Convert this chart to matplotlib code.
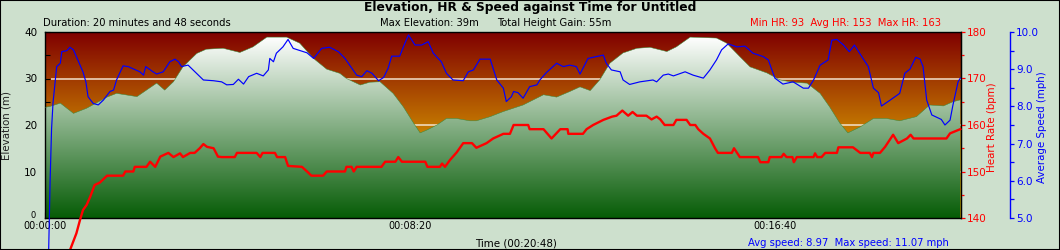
import numpy as np
import matplotlib
matplotlib.use("Agg")
import matplotlib.pyplot as plt
from matplotlib.ticker import FixedLocator, MultipleLocator, FuncFormatter, FormatStrFormatter
from matplotlib.patches import Rectangle

# ---------------- data ----------------
elev_t = [0, 7, 21, 39, 57, 85, 98, 126, 139, 153, 164, 176, 189, 208, 221, 244, 267, 285,
          304, 331, 349, 368, 386, 404, 413, 432, 445, 459, 477, 491, 505, 514, 523, 537,
          550, 564, 582, 591, 610, 628, 655, 683, 701, 719, 733, 747, 760, 774, 792, 811,
          829, 852, 865, 884, 920, 934, 952, 966, 989, 1007, 1025, 1044, 1062, 1075, 1089,
          1100, 1117, 1135, 1153, 1171, 1194, 1212, 1231, 1244, 1254]
elev_m = [23.8, 24.0, 24.7, 22.5, 23.6, 26.0, 26.8, 26.1, 27.5, 29.0, 27.5, 29.3, 32.5, 35.4,
          36.3, 36.5, 35.6, 36.8, 38.9, 38.9, 37.6, 34.3, 32.0, 31.1, 30.0, 28.6, 29.2, 29.3,
          26.8, 23.9, 20.4, 18.3, 18.9, 20.0, 21.4, 21.4, 20.9, 20.9, 21.8, 22.9, 24.3, 26.5,
          26.0, 27.2, 28.2, 27.4, 29.7, 33.3, 35.5, 36.5, 36.7, 35.8, 36.8, 38.9, 38.7, 37.6,
          34.7, 32.5, 31.2, 29.7, 29.2, 29.0, 26.8, 23.9, 20.4, 18.3, 19.6, 21.4, 21.4, 20.9,
          21.8, 24.3, 24.1, 25.0, 25.4]

hr_t = [0, 23, 34, 43, 48, 52, 57, 62, 68, 75, 85, 107, 110, 121, 123, 139, 144, 151, 158,
        169, 176, 185, 189, 199, 205, 212, 217, 222, 231, 237, 242, 260, 263, 290, 295, 298,
        315, 318, 329, 333, 352, 359, 365, 381, 386, 411, 413, 420, 423, 427, 461, 466, 480,
        484, 489, 521, 524, 541, 544, 548, 555, 564, 573, 585, 591, 605, 614, 628, 637, 642,
        662, 664, 683, 694, 706, 716, 717, 737, 742, 751, 765, 777, 783, 791, 799, 805, 811,
        824, 831, 838, 843, 849, 861, 865, 879, 884, 891, 895, 902, 911, 918, 922, 941, 944,
        952, 977, 980, 991, 993, 1009, 1012, 1016, 1024, 1026, 1030, 1053, 1055, 1058, 1064,
        1069, 1085, 1087, 1107, 1117, 1130, 1133, 1135, 1144, 1151, 1162, 1169, 1181, 1186,
        1190, 1235, 1240, 1254]
hr_bpm = [93, 125, 133, 136.7, 139.6, 141.7, 142.8, 144.6, 147.1, 147.6, 149.1, 149.1, 150.0,
          150.0, 151.0, 151.0, 152.1, 151.0, 153.2, 154.0, 153.1, 153.9, 153.1, 154.0, 154.0,
          155.0, 155.9, 155.3, 155.0, 153.2, 153.1, 153.1, 154.0, 154.0, 153.1, 154.0, 154.0,
          153.1, 153.1, 151.2, 151.0, 150.0, 149.1, 149.1, 150.0, 150.0, 151.0, 151.0, 150.0,
          151.0, 151.0, 152.1, 152.1, 153.1, 152.1, 152.1, 151.0, 151.0, 151.7, 151.0, 152.5,
          154.1, 156.1, 156.1, 155.1, 156.1, 157.1, 158.1, 158.1, 160.0, 160.0, 159.1, 159.1,
          157.1, 159.1, 159.1, 158.1, 158.1, 159.1, 160.0, 161.1, 161.8, 162.0, 163.1, 162.0,
          162.8, 162.0, 162.0, 161.2, 161.8, 161.2, 160.0, 160.0, 161.1, 161.1, 160.0, 160.0,
          159.1, 158.1, 157.1, 155.0, 154.0, 154.0, 155.0, 153.1, 153.1, 152.0, 152.0, 153.1,
          153.1, 153.8, 153.1, 153.1, 152.0, 153.1, 153.1, 153.9, 153.1, 153.1, 154.0, 154.0,
          155.2, 155.2, 154.0, 154.0, 153.1, 154.0, 154.0, 155.3, 157.9, 156.1, 157.1, 157.9,
          157.1, 157.1, 158.2, 159.1]

spd_t = [0, 5, 7, 9, 11, 16, 21, 23, 30, 34, 39, 46, 52, 56, 59, 66, 73, 80, 89, 94, 98, 107,
         114, 130, 135, 138, 148, 153, 162, 171, 178, 183, 187, 196, 217, 231, 242, 249, 258,
         265, 272, 279, 290, 299, 306, 308, 313, 317, 326, 333, 340, 359, 368, 379, 390, 402,
         411, 427, 434, 441, 448, 457, 464, 470, 475, 486, 491, 498, 507, 516, 525, 532, 543,
         550, 559, 573, 580, 587, 596, 610, 619, 628, 632, 639, 642, 648, 655, 664, 674, 678,
         687, 701, 710, 719, 728, 733, 744, 765, 769, 776, 788, 792, 801, 815, 833, 838, 847,
         854, 861, 877, 888, 902, 911, 920, 927, 936, 948, 959, 970, 984, 991, 996, 1000, 1011,
         1025, 1039, 1046, 1053, 1062, 1073, 1078, 1085, 1094, 1102, 1109, 1119, 1128, 1135,
         1142, 1146, 1158, 1171, 1178, 1185, 1193, 1199, 1203, 1208, 1215, 1228, 1233, 1240,
         1244, 1251, 1254]
spd_mph = [0.0, 4.1, 6.0, 7.4, 8.1, 9.07, 9.16, 9.47, 9.5, 9.59, 9.52, 9.2, 8.93, 8.66, 8.26,
           8.08, 8.04, 8.17, 8.4, 8.44, 8.71, 9.09, 9.07, 8.93, 8.84, 9.07, 8.93, 8.87, 8.93,
           9.2, 9.27, 9.2, 9.07, 9.11, 8.71, 8.69, 8.66, 8.58, 8.59, 8.73, 8.6, 8.8, 8.89, 8.82,
           8.98, 9.29, 9.2, 9.43, 9.6, 9.8, 9.56, 9.44, 9.29, 9.56, 9.59, 9.47, 9.29, 8.84, 8.8,
           8.96, 8.89, 8.69, 8.78, 9.02, 9.35, 9.35, 9.6, 9.92, 9.65, 9.65, 9.74, 9.43, 9.2,
           8.89, 8.71, 8.69, 8.93, 8.98, 9.27, 9.27, 8.71, 8.49, 8.13, 8.26, 8.4, 8.37, 8.22,
           8.53, 8.58, 8.71, 8.91, 9.16, 9.07, 9.11, 9.07, 8.87, 9.29, 9.38, 9.16, 8.98, 8.93,
           8.71, 8.59, 8.66, 8.71, 8.66, 8.84, 8.87, 8.82, 8.93, 8.84, 8.76, 8.98, 9.25, 9.52,
           9.68, 9.6, 9.62, 9.43, 9.34, 9.25, 8.98, 8.76, 8.6, 8.66, 8.49, 8.49, 8.71, 9.11,
           9.25, 9.78, 9.8, 9.65, 9.47, 9.65, 9.34, 9.07, 8.49, 8.37, 8.01, 8.17, 8.35, 8.89,
           9.0, 9.32, 9.27, 9.07, 8.17, 7.77, 7.65, 7.5, 7.63, 8.04, 8.66, 8.76]

x_major = [0, 500, 1000]
elev_ticks = [0, 10, 20, 30, 40]
hr_ticks = [140, 150, 160, 170, 180]
spd_ticks = [5.0, 6.0, 7.0, 8.0, 9.0, 10.0]

title = "Elevation, HR & Speed against Time for Untitled"
duration_txt = "Duration: 20 minutes and 48 seconds"
max_elev_txt = "Max Elevation: 39m"
gain_txt = "Total Height Gain: 55m"
hr_txt = "Min HR: 93  Avg HR: 153  Max HR: 163"
time_lbl = "Time (00:20:48)"
speed_txt = "Avg speed: 8.97  Max speed: 11.07 mph"

# ---------------- figure ----------------
W, H = 1060, 250
XMAX = 1255
BG = "#cde0cd"
fig = plt.figure(figsize=(W / 100, H / 100), dpi=100, facecolor=BG)

def fx(px):
    return px / W

def fy(py):
    return 1 - py / H

ax = fig.add_axes([fx(45), fy(218), 916 / W, 186 / H])

# background gradient (dark red -> orange)
ys = np.linspace(0, 40, 400)
frac = np.clip((40 - ys) / 22.0, 0, 1.25)
top = np.array([128, 0, 0]) / 255
bot = np.array([200, 128, 0]) / 255
bg_cols = np.clip(top + (bot - top) * frac[:, None], 0, 1)
ax.imshow(bg_cols[:, None, :], extent=[0, XMAX, 0, 40], origin="lower",
          aspect="auto", zorder=0, interpolation="bilinear")

# light grid lines
ax.hlines([10, 20, 30], 8, XMAX, color="#f3e2cc", lw=1.1, zorder=1)

# elevation fill with gradient white -> dark green
coll = ax.fill_between(elev_t, 0, elev_m, facecolor="none", edgecolor="none", zorder=2)
f2 = np.clip((39 - ys) / 39.0, 0, 1)
ftop = np.array([255, 255, 255]) / 255
fbot = np.array([6, 92, 6]) / 255
fg_cols = np.clip(ftop + (fbot - ftop) * f2[:, None], 0, 1)
im2 = ax.imshow(fg_cols[:, None, :], extent=[0, XMAX, 0, 40], origin="lower",
                aspect="auto", zorder=2, interpolation="bilinear")
im2.set_clip_path(coll.get_paths()[0], ax.transData)
ax.plot(elev_t, elev_m, color="#3a8a3a", lw=0.35, zorder=3)

ax.set_xlim(0, XMAX)
ax.set_ylim(0, 40)

def fmt_time(s, pos=None):
    s = int(round(s))
    return f"{s // 3600:02d}:{(s % 3600) // 60:02d}:{s % 60:02d}"

ax.xaxis.set_major_locator(FixedLocator(x_major))
ax.xaxis.set_major_formatter(FuncFormatter(fmt_time))
ax.xaxis.set_minor_locator(MultipleLocator(100))
ax.tick_params(axis="x", which="major", direction="in", length=4, width=0.8,
               labelsize=7, pad=2.5, colors="black")
ax.tick_params(axis="x", which="minor", direction="in", length=2.5, width=0.8)

# twins
ax_hr = ax.twinx()
ax_sp = ax.twinx()
ax.yaxis.tick_left()

ax.yaxis.set_major_locator(FixedLocator(elev_ticks))
ax.set_yticklabels(["" if v == 0 else str(v) for v in elev_ticks])
ax.yaxis.set_minor_locator(MultipleLocator(5))
ax.tick_params(axis="y", which="both", direction="in", length=3.6, width=0.8,
               labelsize=7.5, pad=5.5)
for sp in ax.spines.values():
    sp.set_color("black")
    sp.set_linewidth(1.0)

ax_hr.set_ylim(140, 180)
ax_hr.yaxis.set_major_locator(FixedLocator(hr_ticks))
ax_hr.yaxis.set_minor_locator(MultipleLocator(5))
ax_hr.tick_params(axis="y", which="major", direction="out", length=3.2, width=0.9,
                  colors="red", labelsize=7.5, pad=0.8)
ax_hr.tick_params(axis="y", which="minor", direction="out", length=2.4, width=0.9,
                  colors="red")
for k in ["left", "top", "bottom"]:
    ax_hr.spines[k].set_visible(False)
ax_hr.spines["right"].set_color("black")

ax_sp.set_ylim(5, 10)
ax_sp.spines["right"].set_position(("axes", 1 + 49 / 916))
ax_sp.yaxis.set_major_locator(FixedLocator(spd_ticks))
ax_sp.yaxis.set_major_formatter(FormatStrFormatter("%.1f"))
ax_sp.yaxis.set_minor_locator(MultipleLocator(0.5))
ax_sp.tick_params(axis="y", which="both", direction="out", length=3.2, width=0.9,
                  colors="blue", labelsize=7.5, pad=1.2)
for k in ["left", "top", "bottom"]:
    ax_sp.spines[k].set_visible(False)
ax_sp.spines["right"].set_color("blue")
ax_sp.spines["right"].set_linewidth(1.0)

ax_hr.plot(hr_t, hr_bpm, color="red", lw=1.7, clip_on=False, zorder=5)
ax_sp.plot(spd_t, spd_mph, color="blue", lw=0.85, clip_on=False, zorder=6)

# texts
fig.text(fx(530), fy(7), title, ha="center", va="center", fontsize=8.8, weight="bold")
fig.text(fx(43), fy(23.5), duration_txt, ha="left", va="center", fontsize=7.2)
fig.text(fx(380), fy(23.5), max_elev_txt, ha="left", va="center", fontsize=7.2)
fig.text(fx(497), fy(23.5), gain_txt, ha="left", va="center", fontsize=7.2)
fig.text(fx(750), fy(23.5), hr_txt, ha="left", va="center", fontsize=7.2, color="red")
fig.text(fx(475), fy(243), time_lbl, ha="left", va="center", fontsize=7.4)
fig.text(fx(748), fy(243), speed_txt, ha="left", va="center", fontsize=7.2, color="blue")
fig.text(fx(7), fy(125), "Elevation (m)", ha="center", va="center", rotation=90,
         fontsize=7.4, color="#202020")
fig.text(fx(992), fy(127), "Heart Rate (bpm)", ha="center", va="center", rotation=90,
         fontsize=7.4, color="red")
fig.text(fx(1042), fy(127), "Average Speed (mph)", ha="center", va="center", rotation=90,
         fontsize=7.4, color="blue")
fig.text(fx(33), fy(215), "0", ha="center", va="center", fontsize=6)

fig.patches.append(Rectangle((0, 0), 1, 1, transform=fig.transFigure, fill=False,
                             edgecolor="black", lw=1.5))

fig.savefig("out.png", dpi=100, facecolor=BG)
